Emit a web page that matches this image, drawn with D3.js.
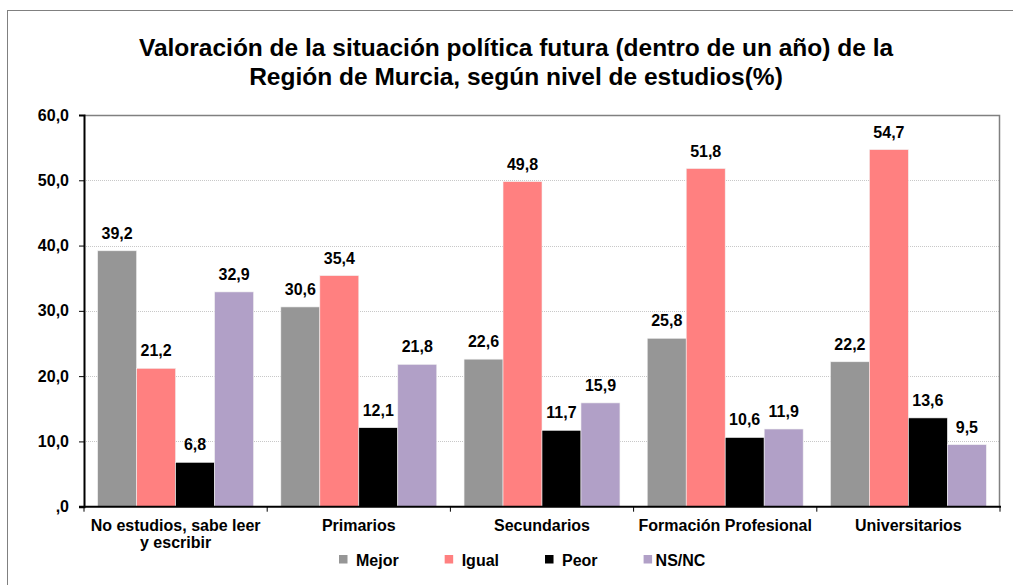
<!DOCTYPE html>
<html>
<head>
<meta charset="utf-8">
<script src="https://cdn.jsdelivr.net/npm/d3@7"></script>
<style>
  html, body { margin: 0; padding: 0; background: #fff; }
  svg { display: block; }
  text { font-family: "Liberation Sans", Arial, sans-serif; font-weight: bold; fill: #000; }
</style>
</head>
<body>
<svg id="chart" width="1013" height="585"></svg>
<script>
const titleLines = [
  "Valoración de la situación política futura (dentro de un año) de la",
  "Región de Murcia, según nivel de estudios(%)"
];
const categories = [
  "No estudios, sabe leer\ny escribir",
  "Primarios",
  "Secundarios",
  "Formación Profesional",
  "Universitarios"
];
const seriesNames = ["Mejor", "Igual", "Peor", "NS/NC"];
const seriesColors = ["#969696", "#FF8080", "#000000", "#B1A0C7"];
const mejor = [39.2, 30.6, 22.6, 25.8, 22.2];
const igual = [21.2, 35.4, 49.8, 51.8, 54.7];
const peor  = [6.8, 12.1, 11.7, 10.6, 13.6];
const nsnc  = [32.9, 21.8, 15.9, 11.9, 9.5];
const yTicks = [0, 10, 20, 30, 40, 50, 60];
const yTickLabels = [",0", "10,0", "20,0", "30,0", "40,0", "50,0", "60,0"];

const seriesValues = [mejor, igual, peor, nsnc];
const fmt = v => v.toFixed(1).replace(".", ",");

const svg = d3.select("#chart");
const plot = { left: 84, right: 1000, top: 115, bottom: 506.7 };

// outer frame
svg.append("rect")
  .attr("x", 7.5).attr("y", 10.5)
  .attr("width", 1030).attr("height", 600)
  .attr("fill", "none").attr("stroke", "#808080").attr("stroke-width", 1);

// title
const title = svg.append("text")
  .attr("text-anchor", "middle")
  .style("font-size", "24.5px");
titleLines.forEach((t, i) => {
  title.append("tspan").attr("x", 516).attr("y", 56 + i * 28.5).text(t);
});

const x = d3.scaleBand().domain(d3.range(categories.length))
  .range([plot.left, plot.right]).paddingInner(0).paddingOuter(0);
const xs = d3.scaleBand().domain(d3.range(seriesNames.length))
  .range([0, x.bandwidth()]).paddingInner(0).paddingOuter(0.35);
const y = d3.scaleLinear().domain([0, 60]).range([plot.bottom, plot.top]);

// gridlines
svg.append("g").selectAll("line")
  .data(yTicks.filter(t => t > 0 && t < 60))
  .join("line")
  .attr("x1", plot.left).attr("x2", plot.right)
  .attr("y1", d => Math.round(y(d)) + 0.5).attr("y2", d => Math.round(y(d)) + 0.5)
  .attr("stroke", "#c8c8c8").attr("stroke-width", 1).attr("stroke-dasharray", "1,1");

// plot area top/right border
svg.append("path")
  .attr("d", `M${plot.left},${plot.top + 0.5}H${plot.right - 0.5}V${plot.bottom}`)
  .attr("fill", "none").attr("stroke", "#808080").attr("stroke-width", 1.5);

// bars
const groups = svg.append("g").selectAll("g")
  .data(seriesNames)
  .join("g")
  .attr("fill", (d, i) => seriesColors[i]);

groups.each(function(name, si) {
  const vals = seriesValues[si];
  d3.select(this).selectAll("rect")
    .data(vals)
    .join("rect")
    .attr("x", (v, ci) => x(ci) + xs(si))
    .attr("width", xs.bandwidth())
    .attr("y", v => y(v))
    .attr("height", v => y(0) - y(v))
    .attr("stroke", "#f2f2f2").attr("stroke-width", 0.6);
});

// value labels
const labels = svg.append("g").style("font-size", "16px").attr("text-anchor", "middle");
seriesValues.forEach((vals, si) => {
  labels.selectAll(null)
    .data(vals)
    .join("text")
    .attr("x", (v, ci) => x(ci) + xs(si) + xs.bandwidth() / 2)
    .attr("y", v => y(v) - 12)
    .text(v => fmt(v));
});

// y axis
const yAxis = d3.axisLeft(y).tickValues(yTicks).tickSize(5).tickPadding(10)
  .tickFormat((d, i) => yTickLabels[i]);
const yg = svg.append("g").attr("transform", `translate(${plot.left},0)`).call(yAxis);
yg.select(".domain").attr("stroke", "#000").attr("stroke-width", 2);
yg.selectAll(".tick line").attr("stroke", "#000").attr("stroke-width", 1);
yg.selectAll(".tick text").style("font-size", "16px").style("font-family", "Liberation Sans, Arial, sans-serif").style("font-weight", "bold");

// x axis line
svg.append("line")
  .attr("x1", plot.left - 5).attr("x2", plot.right + 1)
  .attr("y1", plot.bottom).attr("y2", plot.bottom)
  .attr("stroke", "#000").attr("stroke-width", 2);
// x ticks at boundaries
svg.append("g").selectAll("line")
  .data(d3.range(categories.length + 1))
  .join("line")
  .attr("x1", i => i < categories.length ? x(i) : plot.right)
  .attr("x2", i => i < categories.length ? x(i) : plot.right)
  .attr("y1", plot.bottom).attr("y2", plot.bottom + 5)
  .attr("stroke", "#000").attr("stroke-width", 1);

// x labels
const xl = svg.append("g").style("font-size", "16px").attr("text-anchor", "middle");
categories.forEach((c, ci) => {
  const t = xl.append("text");
  c.split("\n").forEach((line, li) => {
    t.append("tspan").attr("x", x(ci) + x.bandwidth() / 2).attr("y", 531 + li * 16.5).text(line);
  });
});

// legend
const legend = svg.append("g").style("font-size", "16px");
let lx = 339;
seriesNames.forEach((name, i) => {
  legend.append("rect").attr("x", lx).attr("y", 555).attr("width", 8.5).attr("height", 8.5)
    .attr("fill", seriesColors[i]);
  const off = i === seriesNames.length - 1 ? 12 : 17;
  const t = legend.append("text").attr("x", lx + off).attr("y", 565.5).text(name);
  lx += off + t.node().getComputedTextLength() + 46;
});
</script>
</body>
</html>
